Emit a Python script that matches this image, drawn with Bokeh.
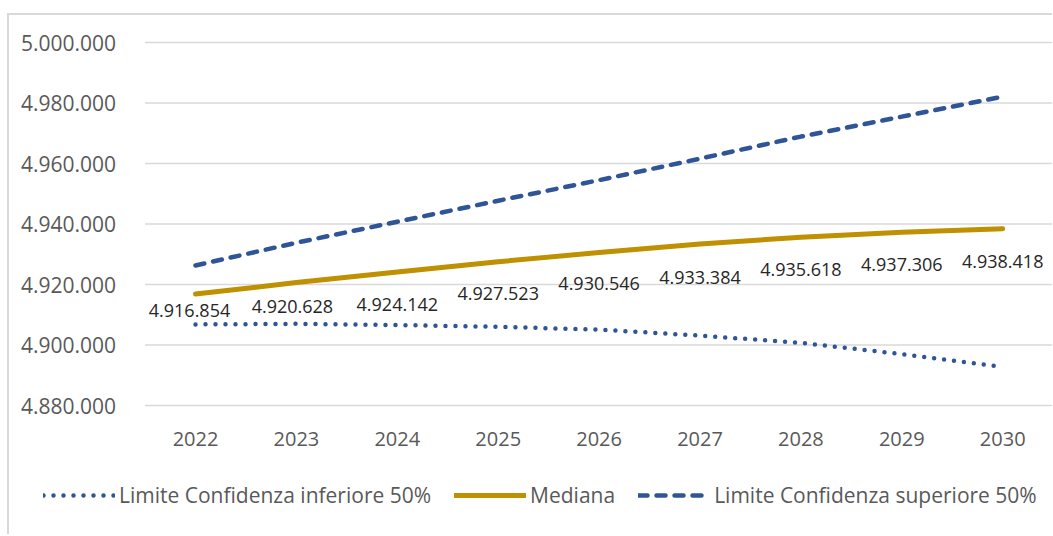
from bokeh.plotting import figure
from bokeh.models import (ColumnDataSource, Range1d, FixedTicker, CustomJSTickFormatter,
                          Legend, LegendItem, LinearAxis)
from bokeh.embed import file_html
from bokeh.resources import INLINE

years = [2022, 2023, 2024, 2025, 2026, 2027, 2028, 2029, 2030]
mediana = [4916854, 4920628, 4924142, 4927523, 4930546, 4933384, 4935618, 4937306, 4938418]
inferiore = [4906800, 4907000, 4906600, 4906000, 4905100, 4903100, 4900700, 4897000, 4892800]
superiore = [4926300, 4933800, 4940750, 4947700, 4954500, 4961600, 4968900, 4975500, 4982100]
y_ticks = [4880000, 4900000, 4920000, 4940000, 4960000, 4980000, 5000000]

# label placement (pixels, layout only)
label_dx = [-6, -4, 0, 0, 0, 0, 0, 0, 0]
label_dy = [16, 24, 33, 32, 31, 33, 32, 32, 33]

FONT = "Open Sans"
GRAY = "#595959"
BLUE = "#2F5597"
GOLD = "#BF9000"

# plot-area geometry (pixels): the frame spans the whole canvas
PX_PER_YEAR = 100.9
PX_PER_UNIT = 363 / 120000
x0 = 2022 - 195 / PX_PER_YEAR
x1 = x0 + 1052 / PX_PER_YEAR
y1 = 5000000 + 42 / PX_PER_UNIT
y0 = 4880000 - 129 / PX_PER_UNIT
GRID_X0, GRID_X1 = 2021.5, x1

p = figure(frame_width=1052, frame_height=534, output_backend="svg", toolbar_location=None,
           x_range=Range1d(x0, x1), y_range=Range1d(y0, y1),
           min_border=0, x_axis_location=None, y_axis_location=None)
p.border_fill_color = None
p.background_fill_color = None
p.outline_line_color = None
p.grid.visible = False
p.styles = {
    "background": "linear-gradient(#D9D9D9,#D9D9D9) 7px 13px / 100% 2px no-repeat, "
                  "linear-gradient(#D9D9D9,#D9D9D9) 7px 13px / 2px 100% no-repeat"
}

# gridlines at the y ticks
p.segment(x0=GRID_X0, x1=GRID_X1, y0=y_ticks, y1=y_ticks,
          line_color="#D9D9D9", line_width=1.5)

# axes
yaxis = LinearAxis(fixed_location=GRID_X0, ticker=FixedTicker(ticks=y_ticks),
                   formatter=CustomJSTickFormatter(
                       code="return Math.round(tick).toString().replace(/\\B(?=(\\d{3})+(?!\\d))/g, '.');"))
xaxis = LinearAxis(fixed_location=4880000, ticker=FixedTicker(ticks=years))
for ax, fs, so in ((xaxis, "20px", 20), (yaxis, "21px", 23)):
    ax.axis_line_color = None
    ax.major_tick_line_color = None
    ax.minor_tick_line_color = None
    ax.major_label_text_font = FONT
    ax.major_label_text_font_size = fs
    ax.major_label_text_color = GRAY
    ax.major_label_standoff = so
p.add_layout(yaxis, "left")
p.add_layout(xaxis, "below")

src = ColumnDataSource(dict(x=years, med=mediana, inf=inferiore, sup=superiore,
                            lab=[f"{v:,}".replace(",", ".") for v in mediana],
                            dx=label_dx, dy=label_dy))

r_inf = p.line("x", "inf", source=src, line_color=BLUE, line_width=4.5,
               line_dash="0 10", line_cap="round")
r_med = p.line("x", "med", source=src, line_color=GOLD, line_width=5, line_cap="round")
r_sup = p.line("x", "sup", source=src, line_color=BLUE, line_width=4.5,
               line_dash="9 9", line_cap="round")

p.text("x", "med", text="lab", source=src, x_offset="dx", y_offset="dy",
       text_align="center", text_baseline="middle", text_font_size="18px",
       text_color="#262626", text_font={"value": FONT})

legend = Legend(items=[
    LegendItem(label="Limite Confidenza inferiore 50%", renderers=[r_inf]),
    LegendItem(label="Mediana", renderers=[r_med]),
    LegendItem(label="Limite Confidenza superiore 50%", renderers=[r_sup]),
], orientation="horizontal", location=(43, 25))
legend.label_text_font = FONT
legend.label_text_font_size = "21px"
legend.label_text_color = GRAY
legend.glyph_width = 72
legend.label_standoff = 4
legend.spacing = 23
legend.border_line_color = None
legend.background_fill_alpha = 0
legend.padding = 0
legend.margin = 0
p.add_layout(legend)

open("out.html", "w").write(file_html(p, INLINE))
